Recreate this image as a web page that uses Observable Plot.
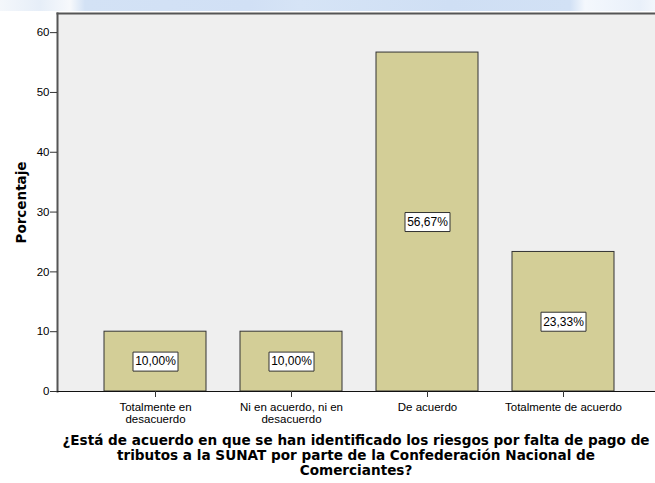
<!DOCTYPE html>
<html>
<head>
<meta charset="utf-8">
<script src="https://cdn.jsdelivr.net/npm/d3@7"></script>
<script src="https://cdn.jsdelivr.net/npm/@observablehq/plot@0.6"></script>
<style>
  html, body { margin: 0; padding: 0; background: #ffffff; }
  #wrap { position: relative; width: 655px; height: 483px; overflow: hidden; }
  #strip { position: absolute; left: 0; top: 0; width: 655px; height: 11px; z-index: 2;
    background: linear-gradient(to right, #f4f7fb 0px, #e6eef8 40px, #f7f9fc 70px, #d3e2f5 85px, #d1e0f5 250px, #d6e4f6 300px, #cfdff4 450px, #d2e1f5 570px, #f4f8fd 585px, #e9f0fa 640px, #f2f6fc 655px); }
  #chart svg g[aria-label="y-axis label"] text { font-family: "DejaVu Sans", sans-serif; font-weight: bold; font-size: 13.5px; }
  #title { position: absolute; left: 57px; width: 598px; top: 433px; text-align: center;
    font-family: "DejaVu Sans", sans-serif; font-weight: bold; font-size: 13.6px; line-height: 15px; color: #000; white-space: nowrap; }
</style>
</head>
<body>
<div id="wrap">
  <div id="strip"></div>
  <div id="chart"></div>
  <div id="title">¿Está de acuerdo en que se han identificado los riesgos por falta de pago de<br>tributos a la SUNAT por parte de la Confederación Nacional de<br>Comerciantes?</div>
</div>
<script>
const categorias = ["Totalmente en\ndesacuerdo", "Ni en acuerdo, ni en\ndesacuerdo", "De acuerdo", "Totalmente de acuerdo"];
const porcentajes = [10.00, 10.00, 56.67, 23.33];
const etiquetas = ["10,00%", "10,00%", "56,67%", "23,33%"];
const yTicks = [0, 10, 20, 30, 40, 50, 60];

const datos = categorias.map((c, i) => ({cat: c, v: porcentajes[i], etq: etiquetas[i]}));

const caja = { draw(ctx, size) { ctx.rect(-22.5, -9.5, 45, 19); } };

const chart = Plot.plot({
  width: 655,
  height: 430,
  marginTop: 13,
  marginLeft: 57,
  marginRight: 0,
  marginBottom: 39,
  style: { fontFamily: "'Liberation Sans', Arial, sans-serif", fontSize: "11.5px", background: "transparent", color: "#000" },
  x: { domain: categorias, range: [70, 648], padding: 0.25, label: null },
  y: { domain: [0, 63.2], label: null },
  marks: [
    Plot.frame({ fill: "#efefef", stroke: null }),
    Plot.frame({ anchor: "top", stroke: "#555", strokeWidth: 2 }),
    Plot.frame({ anchor: "left", stroke: "#555", strokeWidth: 2 }),
    Plot.barY(datos, { x: "cat", y: "v", fill: "#d3ce97", stroke: "#333", strokeWidth: 1 }),
    Plot.ruleY([0], { stroke: "#111", strokeWidth: 1.2 }),
    Plot.axisY({ ticks: yTicks, tickSize: 7, tickPadding: 1, stroke: "#333", fontSize: 11.5, label: "Porcentaje", labelAnchor: "center", labelOffset: 41, labelArrow: "none" }),
    Plot.axisX({ tickSize: 6, tickPadding: 6, stroke: "#333", fontSize: 11.5, label: null, lineHeight: 0.97 }),
    Plot.dot(datos, { x: "cat", y: d => d.v / 2, symbol: caja, r: 5, fill: "#ffffff", stroke: "#333", strokeWidth: 1 }),
    Plot.text(datos, { x: "cat", y: d => d.v / 2, text: "etq", fontSize: 12, fill: "#000" })
  ]
});
document.getElementById("chart").appendChild(chart);
</script>
</body>
</html>
